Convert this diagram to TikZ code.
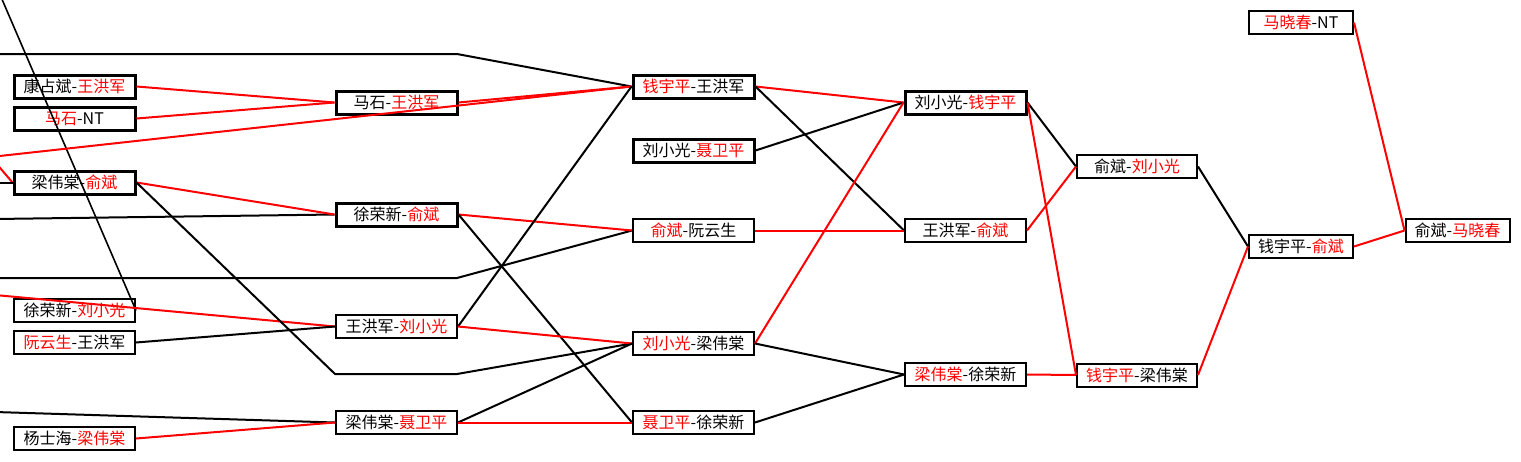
\documentclass[tikz,border=0pt]{standalone}
\usepackage{fontspec}
\newfontfamily\cjk{Noto Sans CJK SC}
\newcommand\rd[1]{\textcolor{red}{#1}}
\begin{document}
\begin{tikzpicture}[x=0.75pt,y=-0.75pt,
  bx/.style={draw, line width=1.5pt, inner sep=0pt, minimum width=90.75pt, minimum height=17.25pt, font=\cjk\fontsize{12}{13}\selectfont},
  thk/.style={line width=2.25pt},
  nar/.style={minimum width=78pt},
  mid/.style={minimum width=90pt},
  ln/.style={line width=1.5pt, line join=round},
  rl/.style={ln, draw=red},
  bl/.style={ln, draw=black}]
\useasboundingbox (0,0) rectangle (1521,461);
\fill[white] (0,0) rectangle (1521,461);
% column 1
\node[bx,thk] (A1) at (74.5,86.5) {康占斌-\rd{王洪军}};
\node[bx,thk] (A2) at (74.5,118.5) {\rd{马石}-NT};
\node[bx,thk] (A3) at (74.5,182.5) {梁伟棠-\rd{俞斌}};
\node[bx] (A4) at (74.5,310.5) {徐荣新-\rd{刘小光}};
\node[bx] (A5) at (74.5,342.5) {\rd{阮云生}-王洪军};
\node[bx] (A6) at (74.5,438.5) {杨士海-\rd{梁伟棠}};
% column 2
\node[bx,thk] (B1) at (396.5,102.5) {马石-\rd{王洪军}};
\node[bx,thk] (B2) at (396.5,214.5) {徐荣新-\rd{俞斌}};
\node[bx] (B3) at (396.5,326.5) {王洪军-\rd{刘小光}};
\node[bx] (B4) at (396.5,422.5) {梁伟棠-\rd{聂卫平}};
% column 3
\node[bx,thk] (C1) at (693.5,86.5) {\rd{钱宇平}-王洪军};
\node[bx,thk] (C2) at (693.5,150.5) {刘小光-\rd{聂卫平}};
\node[bx] (C3) at (693.5,230.5) {\rd{俞斌}-阮云生};
\node[bx] (C4) at (693.5,343.5) {\rd{刘小光}-梁伟棠};
\node[bx] (C5) at (693.5,422.5) {\rd{聂卫平}-徐荣新};
% column 4
\node[bx,thk] (D1) at (965.5,102.5) {刘小光-\rd{钱宇平}};
\node[bx] (D2) at (965.5,230.5) {王洪军-\rd{俞斌}};
\node[bx] (D3) at (965.5,374.5) {\rd{梁伟棠}-徐荣新};
% column 5
\node[bx,mid] (E1) at (1137,166.5) {俞斌-\rd{刘小光}};
\node[bx,mid] (E2) at (1137,375) {\rd{钱宇平}-梁伟棠};
% column 6
\node[bx,nar] (F1) at (1301,22.5) {\rd{马晓春}-NT};
\node[bx,nar] (F2) at (1301,246.5) {钱宇平-\rd{俞斌}};
% column 7
\node[bx,nar] (G1) at (1457.5,230.5) {俞斌-\rd{马晓春}};
% free ends at the left and top
\coordinate (p1) at (-5,54);
\coordinate (k1) at (457,54);
\coordinate (p2) at (-2,-10);
\coordinate (p3) at (-5,156.5);
\coordinate (p4) at (-5,162);
\coordinate (p5) at (-5,182.5);
\coordinate (p6) at (-5,219);
\coordinate (p7) at (-5,278);
\coordinate (k7) at (457,278);
\coordinate (p8) at (-5,295);
\coordinate (p9) at (-5,412);
\coordinate (k8a) at (335,374);
\coordinate (k8b) at (457,374);
% connectors into column 1 and 2
\draw[bl] (p1) -- (k1) -- (C1.west);
\draw[ln, line width=1.2pt] (p2) -- (A4.east);
\draw[rl] (p3) -- (C1.west);
\draw[rl] (p4) -- (A3.west);
\draw[bl] (p5) -- (A3.west);
\draw[bl] (p6) -- (B2.west);
\draw[bl] (p7) -- (k7) -- (C3.west);
\draw[rl] (p8) -- (B3.west);
\draw[bl] (p9) -- (B4.west);
\draw[rl] (A1.east) -- (B1.west);
\draw[rl] (A2.east) -- (B1.west);
\draw[rl] (A3.east) -- (B2.west);
\draw[bl] (A3.east) -- (k8a) -- (k8b) -- (C4.west);
\draw[bl] (A5.east) -- (B3.west);
\draw[rl] (A6.east) -- (B4.west);
% column 2 to 3
\draw[rl] (B1.east) -- (C1.west);
\draw[rl] (B2.east) -- (C3.west);
\draw[bl] (B2.east) -- (C5.west);
\draw[bl] (B3.east) -- (C1.west);
\draw[rl] (B3.east) -- (C4.west);
\draw[bl] (B4.east) -- (C4.west);
\draw[rl] (B4.east) -- (C5.west);
% column 3 to 4
\draw[rl] (C1.east) -- (D1.west);
\draw[bl] (C1.east) -- (D2.west);
\draw[bl] (C2.east) -- (D1.west);
\draw[rl] (C3.east) -- (D2.west);
\draw[rl] (C4.east) -- (D1.west);
\draw[bl] (C4.east) -- (D3.west);
\draw[bl] (C5.east) -- (D3.west);
% column 4 to 5
\draw[bl] (D1.east) -- (E1.west);
\draw[rl] (D1.east) -- (E2.west);
\draw[rl] (D2.east) -- (E1.west);
\draw[rl] (D3.east) -- (E2.west);
% column 5 to 6
\draw[bl] (E1.east) -- (F2.west);
\draw[rl] (E2.east) -- (F2.west);
% column 6 to 7
\draw[rl] (F1.east) -- (G1.west);
\draw[rl] (F2.east) -- (G1.west);
\end{tikzpicture}
\end{document}
